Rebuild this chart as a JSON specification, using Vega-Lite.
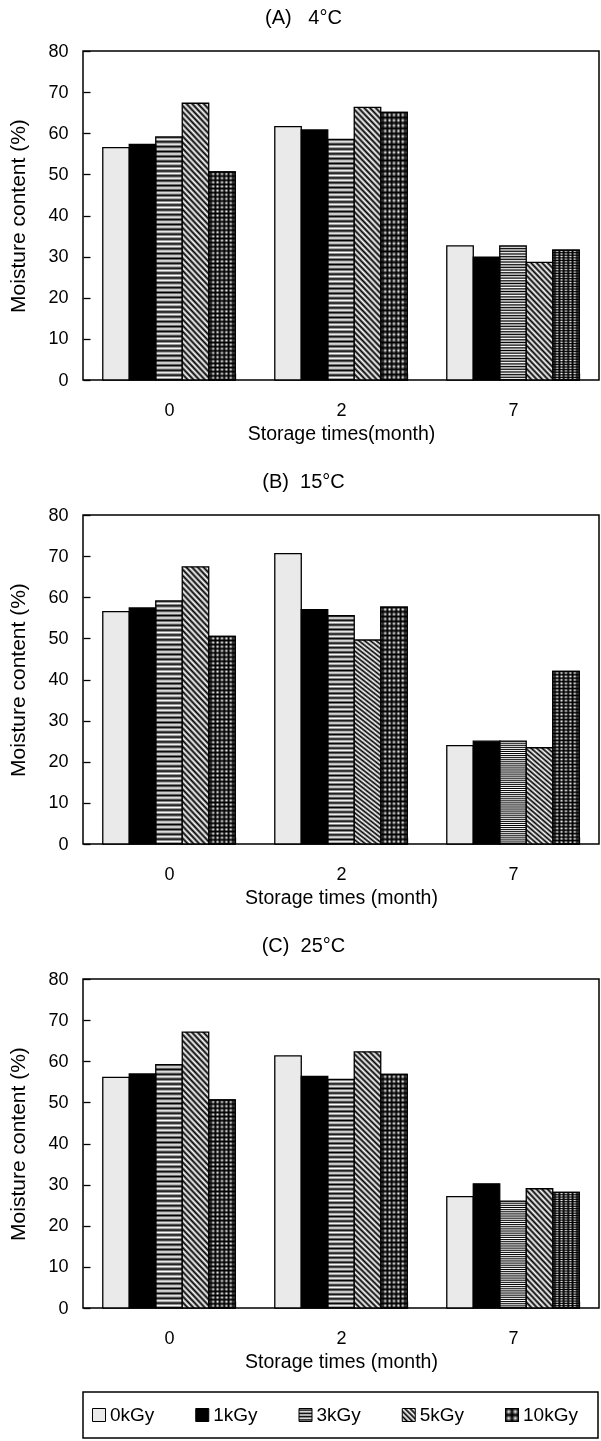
{
  "$schema": "https://vega.github.io/schema/vega-lite/v6.json",
  "padding": {"top": 7, "left": 7, "right": 0, "bottom": 0},
  "params": [
    {"name": "vsG", "value": {"gradient": "linear", "x1": 0, "y1": 0, "x2": 1, "y2": 0, "stops": [{"offset":0,"color":"#fff"},{"offset":0.0833,"color":"#000"},{"offset":0.1667,"color":"#fff"},{"offset":0.25,"color":"#000"},{"offset":0.3333,"color":"#fff"},{"offset":0.4167,"color":"#000"},{"offset":0.5,"color":"#fff"},{"offset":0.5833,"color":"#000"},{"offset":0.6667,"color":"#fff"},{"offset":0.75,"color":"#000"},{"offset":0.8333,"color":"#fff"},{"offset":0.9167,"color":"#000"},{"offset":1,"color":"#fff"}]}},
    {"name": "hsG", "value": {"gradient": "linear", "x1": 0, "y1": 0, "x2": 0, "y2": 1, "stops": [{"offset":0,"color":"#000"},{"offset":0.01,"color":"#fff"},{"offset":0.02,"color":"#000"},{"offset":0.03,"color":"#fff"},{"offset":0.04,"color":"#000"},{"offset":0.05,"color":"#fff"},{"offset":0.06,"color":"#000"},{"offset":0.07,"color":"#fff"},{"offset":0.08,"color":"#000"},{"offset":0.09,"color":"#fff"},{"offset":0.1,"color":"#000"},{"offset":0.11,"color":"#fff"},{"offset":0.12,"color":"#000"},{"offset":0.13,"color":"#fff"},{"offset":0.14,"color":"#000"},{"offset":0.15,"color":"#fff"},{"offset":0.16,"color":"#000"},{"offset":0.17,"color":"#fff"},{"offset":0.18,"color":"#000"},{"offset":0.19,"color":"#fff"},{"offset":0.2,"color":"#000"},{"offset":0.21,"color":"#fff"},{"offset":0.22,"color":"#000"},{"offset":0.23,"color":"#fff"},{"offset":0.24,"color":"#000"},{"offset":0.25,"color":"#fff"},{"offset":0.26,"color":"#000"},{"offset":0.27,"color":"#fff"},{"offset":0.28,"color":"#000"},{"offset":0.29,"color":"#fff"},{"offset":0.3,"color":"#000"},{"offset":0.31,"color":"#fff"},{"offset":0.32,"color":"#000"},{"offset":0.33,"color":"#fff"},{"offset":0.34,"color":"#000"},{"offset":0.35,"color":"#fff"},{"offset":0.36,"color":"#000"},{"offset":0.37,"color":"#fff"},{"offset":0.38,"color":"#000"},{"offset":0.39,"color":"#fff"},{"offset":0.4,"color":"#000"},{"offset":0.41,"color":"#fff"},{"offset":0.42,"color":"#000"},{"offset":0.43,"color":"#fff"},{"offset":0.44,"color":"#000"},{"offset":0.45,"color":"#fff"},{"offset":0.46,"color":"#000"},{"offset":0.47,"color":"#fff"},{"offset":0.48,"color":"#000"},{"offset":0.49,"color":"#fff"},{"offset":0.5,"color":"#000"},{"offset":0.51,"color":"#fff"},{"offset":0.52,"color":"#000"},{"offset":0.53,"color":"#fff"},{"offset":0.54,"color":"#000"},{"offset":0.55,"color":"#fff"},{"offset":0.56,"color":"#000"},{"offset":0.57,"color":"#fff"},{"offset":0.58,"color":"#000"},{"offset":0.59,"color":"#fff"},{"offset":0.6,"color":"#000"},{"offset":0.61,"color":"#fff"},{"offset":0.62,"color":"#000"},{"offset":0.63,"color":"#fff"},{"offset":0.64,"color":"#000"},{"offset":0.65,"color":"#fff"},{"offset":0.66,"color":"#000"},{"offset":0.67,"color":"#fff"},{"offset":0.68,"color":"#000"},{"offset":0.69,"color":"#fff"},{"offset":0.7,"color":"#000"},{"offset":0.71,"color":"#fff"},{"offset":0.72,"color":"#000"},{"offset":0.73,"color":"#fff"},{"offset":0.74,"color":"#000"},{"offset":0.75,"color":"#fff"},{"offset":0.76,"color":"#000"},{"offset":0.77,"color":"#fff"},{"offset":0.78,"color":"#000"},{"offset":0.79,"color":"#fff"},{"offset":0.8,"color":"#000"},{"offset":0.81,"color":"#fff"},{"offset":0.82,"color":"#000"},{"offset":0.83,"color":"#fff"},{"offset":0.84,"color":"#000"},{"offset":0.85,"color":"#fff"},{"offset":0.86,"color":"#000"},{"offset":0.87,"color":"#fff"},{"offset":0.88,"color":"#000"},{"offset":0.89,"color":"#fff"},{"offset":0.9,"color":"#000"},{"offset":0.91,"color":"#fff"},{"offset":0.92,"color":"#000"},{"offset":0.93,"color":"#fff"},{"offset":0.94,"color":"#000"},{"offset":0.95,"color":"#fff"},{"offset":0.96,"color":"#000"},{"offset":0.97,"color":"#fff"},{"offset":0.98,"color":"#000"},{"offset":0.99,"color":"#fff"},{"offset":1,"color":"#000"}]}},
    {"name": "dtG", "value": {"gradient": "linear", "x1": 0, "y1": 1, "x2": 0.111, "y2": -0.091, "stops": [{"offset":0,"color":"#000"},{"offset":0.01,"color":"#fff"},{"offset":0.02,"color":"#000"},{"offset":0.03,"color":"#fff"},{"offset":0.04,"color":"#000"},{"offset":0.05,"color":"#fff"},{"offset":0.06,"color":"#000"},{"offset":0.07,"color":"#fff"},{"offset":0.08,"color":"#000"},{"offset":0.09,"color":"#fff"},{"offset":0.1,"color":"#000"},{"offset":0.11,"color":"#fff"},{"offset":0.12,"color":"#000"},{"offset":0.13,"color":"#fff"},{"offset":0.14,"color":"#000"},{"offset":0.15,"color":"#fff"},{"offset":0.16,"color":"#000"},{"offset":0.17,"color":"#fff"},{"offset":0.18,"color":"#000"},{"offset":0.19,"color":"#fff"},{"offset":0.2,"color":"#000"},{"offset":0.21,"color":"#fff"},{"offset":0.22,"color":"#000"},{"offset":0.23,"color":"#fff"},{"offset":0.24,"color":"#000"},{"offset":0.25,"color":"#fff"},{"offset":0.26,"color":"#000"},{"offset":0.27,"color":"#fff"},{"offset":0.28,"color":"#000"},{"offset":0.29,"color":"#fff"},{"offset":0.3,"color":"#000"},{"offset":0.31,"color":"#fff"},{"offset":0.32,"color":"#000"},{"offset":0.33,"color":"#fff"},{"offset":0.34,"color":"#000"},{"offset":0.35,"color":"#fff"},{"offset":0.36,"color":"#000"},{"offset":0.37,"color":"#fff"},{"offset":0.38,"color":"#000"},{"offset":0.39,"color":"#fff"},{"offset":0.4,"color":"#000"},{"offset":0.41,"color":"#fff"},{"offset":0.42,"color":"#000"},{"offset":0.43,"color":"#fff"},{"offset":0.44,"color":"#000"},{"offset":0.45,"color":"#fff"},{"offset":0.46,"color":"#000"},{"offset":0.47,"color":"#fff"},{"offset":0.48,"color":"#000"},{"offset":0.49,"color":"#fff"},{"offset":0.5,"color":"#000"},{"offset":0.51,"color":"#fff"},{"offset":0.52,"color":"#000"},{"offset":0.53,"color":"#fff"},{"offset":0.54,"color":"#000"},{"offset":0.55,"color":"#fff"},{"offset":0.56,"color":"#000"},{"offset":0.57,"color":"#fff"},{"offset":0.58,"color":"#000"},{"offset":0.59,"color":"#fff"},{"offset":0.6,"color":"#000"},{"offset":0.61,"color":"#fff"},{"offset":0.62,"color":"#000"},{"offset":0.63,"color":"#fff"},{"offset":0.64,"color":"#000"},{"offset":0.65,"color":"#fff"},{"offset":0.66,"color":"#000"},{"offset":0.67,"color":"#fff"},{"offset":0.68,"color":"#000"},{"offset":0.69,"color":"#fff"},{"offset":0.7,"color":"#000"},{"offset":0.71,"color":"#fff"},{"offset":0.72,"color":"#000"},{"offset":0.73,"color":"#fff"},{"offset":0.74,"color":"#000"},{"offset":0.75,"color":"#fff"},{"offset":0.76,"color":"#000"},{"offset":0.77,"color":"#fff"},{"offset":0.78,"color":"#000"},{"offset":0.79,"color":"#fff"},{"offset":0.8,"color":"#000"},{"offset":0.81,"color":"#fff"},{"offset":0.82,"color":"#000"},{"offset":0.83,"color":"#fff"},{"offset":0.84,"color":"#000"},{"offset":0.85,"color":"#fff"},{"offset":0.86,"color":"#000"},{"offset":0.87,"color":"#fff"},{"offset":0.88,"color":"#000"},{"offset":0.89,"color":"#fff"},{"offset":0.9,"color":"#000"},{"offset":0.91,"color":"#fff"},{"offset":0.92,"color":"#000"},{"offset":0.93,"color":"#fff"},{"offset":0.94,"color":"#000"},{"offset":0.95,"color":"#fff"},{"offset":0.96,"color":"#000"},{"offset":0.97,"color":"#fff"},{"offset":0.98,"color":"#000"},{"offset":0.99,"color":"#fff"},{"offset":1,"color":"#000"}]}},
    {"name": "dsG", "value": {"gradient": "linear", "x1": 0, "y1": 1, "x2": 0.276, "y2": -0.171, "stops": [{"offset":0,"color":"#000"},{"offset":0.02,"color":"#fff"},{"offset":0.04,"color":"#000"},{"offset":0.06,"color":"#fff"},{"offset":0.08,"color":"#000"},{"offset":0.1,"color":"#fff"},{"offset":0.12,"color":"#000"},{"offset":0.14,"color":"#fff"},{"offset":0.16,"color":"#000"},{"offset":0.18,"color":"#fff"},{"offset":0.2,"color":"#000"},{"offset":0.22,"color":"#fff"},{"offset":0.24,"color":"#000"},{"offset":0.26,"color":"#fff"},{"offset":0.28,"color":"#000"},{"offset":0.3,"color":"#fff"},{"offset":0.32,"color":"#000"},{"offset":0.34,"color":"#fff"},{"offset":0.36,"color":"#000"},{"offset":0.38,"color":"#fff"},{"offset":0.4,"color":"#000"},{"offset":0.42,"color":"#fff"},{"offset":0.44,"color":"#000"},{"offset":0.46,"color":"#fff"},{"offset":0.48,"color":"#000"},{"offset":0.5,"color":"#fff"},{"offset":0.52,"color":"#000"},{"offset":0.54,"color":"#fff"},{"offset":0.56,"color":"#000"},{"offset":0.58,"color":"#fff"},{"offset":0.6,"color":"#000"},{"offset":0.62,"color":"#fff"},{"offset":0.64,"color":"#000"},{"offset":0.66,"color":"#fff"},{"offset":0.68,"color":"#000"},{"offset":0.7,"color":"#fff"},{"offset":0.72,"color":"#000"},{"offset":0.74,"color":"#fff"},{"offset":0.76,"color":"#000"},{"offset":0.78,"color":"#fff"},{"offset":0.8,"color":"#000"},{"offset":0.82,"color":"#fff"},{"offset":0.84,"color":"#000"},{"offset":0.86,"color":"#fff"},{"offset":0.88,"color":"#000"},{"offset":0.9,"color":"#fff"},{"offset":0.92,"color":"#000"},{"offset":0.94,"color":"#fff"},{"offset":0.96,"color":"#000"},{"offset":0.98,"color":"#fff"},{"offset":1,"color":"#000"}]}}
  ],
  "datasets": {
    "d": [
      {"panel": "A", "month": "0", "dose": "0kGy", "value": 56.5},
      {"panel": "A", "month": "0", "dose": "1kGy", "value": 57.3},
      {"panel": "A", "month": "0", "dose": "3kGy", "value": 59.1},
      {"panel": "A", "month": "0", "dose": "5kGy", "value": 67.3},
      {"panel": "A", "month": "0", "dose": "10kGy", "value": 50.6},
      {"panel": "A", "month": "2", "dose": "0kGy", "value": 61.6},
      {"panel": "A", "month": "2", "dose": "1kGy", "value": 60.8},
      {"panel": "A", "month": "2", "dose": "3kGy", "value": 58.5},
      {"panel": "A", "month": "2", "dose": "5kGy", "value": 66.3},
      {"panel": "A", "month": "2", "dose": "10kGy", "value": 65.1},
      {"panel": "A", "month": "7", "dose": "0kGy", "value": 32.6},
      {"panel": "A", "month": "7", "dose": "1kGy", "value": 29.9},
      {"panel": "A", "month": "7", "dose": "3kGy", "value": 32.6},
      {"panel": "A", "month": "7", "dose": "5kGy", "value": 28.6},
      {"panel": "A", "month": "7", "dose": "10kGy", "value": 31.6},
      {"panel": "B", "month": "0", "dose": "0kGy", "value": 56.5},
      {"panel": "B", "month": "0", "dose": "1kGy", "value": 57.4},
      {"panel": "B", "month": "0", "dose": "3kGy", "value": 59.1},
      {"panel": "B", "month": "0", "dose": "5kGy", "value": 67.4},
      {"panel": "B", "month": "0", "dose": "10kGy", "value": 50.5},
      {"panel": "B", "month": "2", "dose": "0kGy", "value": 70.6},
      {"panel": "B", "month": "2", "dose": "1kGy", "value": 57.0},
      {"panel": "B", "month": "2", "dose": "3kGy", "value": 55.5},
      {"panel": "B", "month": "2", "dose": "5kGy", "value": 49.6},
      {"panel": "B", "month": "2", "dose": "10kGy", "value": 57.6},
      {"panel": "B", "month": "7", "dose": "0kGy", "value": 23.9},
      {"panel": "B", "month": "7", "dose": "1kGy", "value": 25.0},
      {"panel": "B", "month": "7", "dose": "3kGy", "value": 25.0},
      {"panel": "B", "month": "7", "dose": "5kGy", "value": 23.4},
      {"panel": "B", "month": "7", "dose": "10kGy", "value": 42.0},
      {"panel": "C", "month": "0", "dose": "0kGy", "value": 56.1},
      {"panel": "C", "month": "0", "dose": "1kGy", "value": 56.9},
      {"panel": "C", "month": "0", "dose": "3kGy", "value": 59.2},
      {"panel": "C", "month": "0", "dose": "5kGy", "value": 67.1},
      {"panel": "C", "month": "0", "dose": "10kGy", "value": 50.6},
      {"panel": "C", "month": "2", "dose": "0kGy", "value": 61.3},
      {"panel": "C", "month": "2", "dose": "1kGy", "value": 56.3},
      {"panel": "C", "month": "2", "dose": "3kGy", "value": 55.6},
      {"panel": "C", "month": "2", "dose": "5kGy", "value": 62.3},
      {"panel": "C", "month": "2", "dose": "10kGy", "value": 56.8},
      {"panel": "C", "month": "7", "dose": "0kGy", "value": 27.1},
      {"panel": "C", "month": "7", "dose": "1kGy", "value": 30.2},
      {"panel": "C", "month": "7", "dose": "3kGy", "value": 26.0},
      {"panel": "C", "month": "7", "dose": "5kGy", "value": 29.0},
      {"panel": "C", "month": "7", "dose": "10kGy", "value": 28.1}
    ]
  },
  "data": {"name": "d"},
  "config": {
    "font": "Liberation Sans",
    "view": {"stroke": "#000", "strokeWidth": 1.5},
    "bar": {"stroke": "#000", "strokeWidth": 1.3},
    "title": {"font": "Liberation Sans", "fontSize": 20, "fontWeight": "normal", "color": "#000", "anchor": "middle", "frame": "bounds", "offset": 14},
    "axis": {"domain": false, "grid": false, "tickColor": "#000", "tickSize": -7, "tickWidth": 1.3, "labelFont": "Liberation Sans", "labelFontSize": 18, "labelColor": "#000", "titleFont": "Liberation Sans", "titleFontWeight": "normal", "titleColor": "#000", "labelOverlap": false},
    "axisX": {"labelAngle": 0, "tickBand": "extent", "labelPadding": 28, "titleFontSize": 19.5, "titlePadding": 5},
    "axisY": {"labelPadding": 22, "titleFontSize": 21, "titlePadding": 19, "labelFlush": false}
  },
  "spacing": 19,
  "vconcat": [
    {
      "spacing": 27,
      "vconcat": [
        {
          "title": {"text": "(A)\u00a0\u00a0\u00a04°C"},
          "width": 516, "height": 329,
          "transform": [{"filter": "datum.panel == 'A'"}],
          "encoding": {
            "x": {"field": "month", "type": "nominal", "sort": ["0", "2", "7"], "scale": {"domain": ["0", "2", "7"], "paddingInner": 0.23, "paddingOuter": 0.115}, "axis": {"title": "Storage times(month)"}},
            "xOffset": {"field": "dose", "type": "nominal", "scale": {"domain": ["0kGy", "1kGy", "3kGy", "5kGy", "10kGy"]}},
            "y": {"field": "value", "type": "quantitative", "scale": {"domain": [0, 80], "nice": false}, "axis": {"title": "Moisture content (%)", "values": [0, 10, 20, 30, 40, 50, 60, 70, 80]}}
          },
          "layer": [
            {"transform": [{"filter": "datum.dose == '0kGy'"}], "mark": {"type": "bar", "fill": "#eaeaea"}},
            {"transform": [{"filter": "datum.dose == '1kGy'"}], "mark": {"type": "bar", "fill": "#000"}},
            {"transform": [{"filter": "datum.dose == '10kGy'"}], "mark": {"type": "bar", "fill": {"expr": "vsG"}}},
            {"transform": [{"filter": "datum.dose == '3kGy' || datum.dose == '10kGy'"}], "mark": {"type": "bar", "fill": {"expr": "hsG"}, "blend": "multiply"}},
            {"transform": [{"filter": "datum.dose == '5kGy' && datum.value >= 40"}], "mark": {"type": "bar", "fill": {"expr": "dtG"}}},
            {"transform": [{"filter": "datum.dose == '5kGy' && datum.value < 40"}], "mark": {"type": "bar", "fill": {"expr": "dsG"}}}
          ]
        },
        {
          "title": {"text": "(B)\u00a0\u00a015°C"},
          "width": 516, "height": 329,
          "transform": [{"filter": "datum.panel == 'B'"}],
          "encoding": {
            "x": {"field": "month", "type": "nominal", "sort": ["0", "2", "7"], "scale": {"domain": ["0", "2", "7"], "paddingInner": 0.23, "paddingOuter": 0.115}, "axis": {"title": "Storage times (month)"}},
            "xOffset": {"field": "dose", "type": "nominal", "scale": {"domain": ["0kGy", "1kGy", "3kGy", "5kGy", "10kGy"]}},
            "y": {"field": "value", "type": "quantitative", "scale": {"domain": [0, 80], "nice": false}, "axis": {"title": "Moisture content (%)", "values": [0, 10, 20, 30, 40, 50, 60, 70, 80]}}
          },
          "layer": [
            {"transform": [{"filter": "datum.dose == '0kGy'"}], "mark": {"type": "bar", "fill": "#eaeaea"}},
            {"transform": [{"filter": "datum.dose == '1kGy'"}], "mark": {"type": "bar", "fill": "#000"}},
            {"transform": [{"filter": "datum.dose == '10kGy'"}], "mark": {"type": "bar", "fill": {"expr": "vsG"}}},
            {"transform": [{"filter": "datum.dose == '3kGy' || datum.dose == '10kGy'"}], "mark": {"type": "bar", "fill": {"expr": "hsG"}, "blend": "multiply"}},
            {"transform": [{"filter": "datum.dose == '5kGy' && datum.value >= 40"}], "mark": {"type": "bar", "fill": {"expr": "dtG"}}},
            {"transform": [{"filter": "datum.dose == '5kGy' && datum.value < 40"}], "mark": {"type": "bar", "fill": {"expr": "dsG"}}}
          ]
        },
        {
          "title": {"text": "(C)\u00a0\u00a025°C"},
          "width": 516, "height": 329,
          "transform": [{"filter": "datum.panel == 'C'"}],
          "encoding": {
            "x": {"field": "month", "type": "nominal", "sort": ["0", "2", "7"], "scale": {"domain": ["0", "2", "7"], "paddingInner": 0.23, "paddingOuter": 0.115}, "axis": {"title": "Storage times (month)"}},
            "xOffset": {"field": "dose", "type": "nominal", "scale": {"domain": ["0kGy", "1kGy", "3kGy", "5kGy", "10kGy"]}},
            "y": {"field": "value", "type": "quantitative", "scale": {"domain": [0, 80], "nice": false}, "axis": {"title": "Moisture content (%)", "values": [0, 10, 20, 30, 40, 50, 60, 70, 80]}}
          },
          "layer": [
            {"transform": [{"filter": "datum.dose == '0kGy'"}], "mark": {"type": "bar", "fill": "#eaeaea"}},
            {"transform": [{"filter": "datum.dose == '1kGy'"}], "mark": {"type": "bar", "fill": "#000"}},
            {"transform": [{"filter": "datum.dose == '10kGy'"}], "mark": {"type": "bar", "fill": {"expr": "vsG"}}},
            {"transform": [{"filter": "datum.dose == '3kGy' || datum.dose == '10kGy'"}], "mark": {"type": "bar", "fill": {"expr": "hsG"}, "blend": "multiply"}},
            {"transform": [{"filter": "datum.dose == '5kGy' && datum.value >= 40"}], "mark": {"type": "bar", "fill": {"expr": "dtG"}}},
            {"transform": [{"filter": "datum.dose == '5kGy' && datum.value < 40"}], "mark": {"type": "bar", "fill": {"expr": "dsG"}}}
          ]
        }
      ]
    },
    {
      "width": 515, "height": 46,
      "transform": [{"filter": "datum.panel == 'A' && datum.month == '0'"}],
      "encoding": {
        "x": {"field": "dose", "type": "nominal", "scale": {"type": "point", "domain": ["0kGy", "1kGy", "3kGy", "5kGy", "10kGy"], "range": [16, 429], "padding": 0}, "axis": null}
      },
      "layer": [
        {"transform": [{"filter": "datum.dose == '0kGy'"}], "mark": {"type": "square", "size": 169, "opacity": 1, "fill": "#eaeaea", "stroke": "#000", "strokeWidth": 1}},
        {"transform": [{"filter": "datum.dose == '1kGy'"}], "mark": {"type": "square", "size": 169, "opacity": 1, "fill": "#000", "stroke": "#000", "strokeWidth": 1}},
        {"transform": [{"filter": "datum.dose == '3kGy'"}], "mark": {"type": "square", "size": 169, "opacity": 1, "stroke": "#000", "strokeWidth": 1, "fill": {"gradient": "linear", "x1": 0, "y1": 0, "x2": 0, "y2": 1, "stops": [{"offset":0,"color":"#fff"},{"offset":0.125,"color":"#000"},{"offset":0.25,"color":"#fff"},{"offset":0.375,"color":"#000"},{"offset":0.5,"color":"#fff"},{"offset":0.625,"color":"#000"},{"offset":0.75,"color":"#fff"},{"offset":0.875,"color":"#000"},{"offset":1,"color":"#fff"}]}}},
        {"transform": [{"filter": "datum.dose == '5kGy'"}], "mark": {"type": "square", "size": 169, "opacity": 1, "stroke": "#000", "strokeWidth": 1, "fill": {"gradient": "linear", "x1": 0, "y1": 1, "x2": 1, "y2": 0, "stops": [{"offset":0,"color":"#000"},{"offset":0.1,"color":"#fff"},{"offset":0.2,"color":"#000"},{"offset":0.3,"color":"#fff"},{"offset":0.4,"color":"#000"},{"offset":0.5,"color":"#fff"},{"offset":0.6,"color":"#000"},{"offset":0.7,"color":"#fff"},{"offset":0.8,"color":"#000"},{"offset":0.9,"color":"#fff"},{"offset":1,"color":"#000"}]}}},
        {"transform": [{"filter": "datum.dose == '10kGy'"}], "mark": {"type": "square", "size": 169, "opacity": 1, "stroke": "#000", "strokeWidth": 1, "fill": {"gradient": "linear", "x1": 0, "y1": 0, "x2": 1, "y2": 0, "stops": [{"offset":0,"color":"#000"},{"offset":0.25,"color":"#fff"},{"offset":0.5,"color":"#000"},{"offset":0.75,"color":"#fff"},{"offset":1,"color":"#000"}]}}},
        {"transform": [{"filter": "datum.dose == '10kGy'"}], "mark": {"type": "square", "size": 169, "opacity": 1, "blend": "multiply", "stroke": "#000", "strokeWidth": 1, "fill": {"gradient": "linear", "x1": 0, "y1": 0, "x2": 0, "y2": 1, "stops": [{"offset":0,"color":"#000"},{"offset":0.25,"color":"#fff"},{"offset":0.5,"color":"#000"},{"offset":0.75,"color":"#fff"},{"offset":1,"color":"#000"}]}}},
        {"mark": {"type": "text", "align": "left", "baseline": "middle", "dx": 11, "fontSize": 19, "font": "Liberation Sans", "color": "#000"}, "encoding": {"text": {"field": "dose"}}}
      ]
    }
  ]
}
